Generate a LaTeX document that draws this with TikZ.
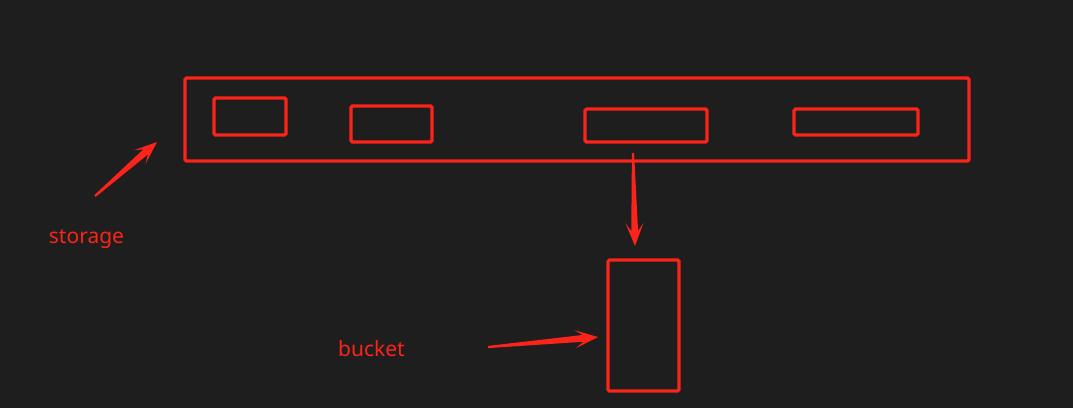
\documentclass[tikz,border=0pt]{standalone}
\usepackage{fontspec}
\setmainfont{Noto Sans}
\usetikzlibrary{calc}
\definecolor{bg}{RGB}{30,30,30}
\definecolor{redline}{RGB}{252,36,26}
\tikzset{
  box/.style={draw=redline, line width=3.2pt, rounded corners=1.5pt, inner sep=0pt, outer sep=0pt},
  lbl/.style={text=redline, font=\fontsize{21}{25}\selectfont, inner sep=0pt}
}
\newcommand{\taperarrow}[2]{%
  \fill[redline]
    ($(#1)!1.1pt!90:(#2)$) --
    ($(#2)!15pt!(#1)!3.4pt!-90:(#1)$) --
    ($(#2)!23pt!(#1)!9pt!-90:(#1)$) --
    (#2) --
    ($(#2)!23pt!(#1)!9pt!90:(#1)$) --
    ($(#2)!15pt!(#1)!3.4pt!90:(#1)$) --
    ($(#1)!1.1pt!-90:(#2)$) -- cycle;
}
\begin{document}
\begin{tikzpicture}[x=1pt,y=-1pt]
  \fill[bg] (0,0) rectangle (1073,408);
  \useasboundingbox (0,0) rectangle (1073,408);
  \node[box, minimum width=784pt, minimum height=83pt] (storage) at (577,119.5) {};
  \node[box, minimum width=72pt, minimum height=37pt] (r1) at (250,116.5) {};
  \node[box, minimum width=81pt, minimum height=36pt] (r2) at (391.5,124) {};
  \node[box, minimum width=122pt, minimum height=33pt] (r3) at (646,125.5) {};
  \node[box, minimum width=124pt, minimum height=26pt] (r4) at (856,122) {};
  \node[box, minimum width=71pt, minimum height=131pt] (bucket) at (643.5,325.5) {};
  \node[lbl] (tstorage) at (86.5,239) {storage};
  \node[lbl] (tbucket) at (371.5,349) {bucket};
  \coordinate (a1s) at (95,196);
  \coordinate (a1e) at (157,142);
  \coordinate (a2s) at (633,153);
  \coordinate (a2e) at (635,246);
  \coordinate (a3s) at (488,347);
  \coordinate (a3e) at (598,337);
  \taperarrow{a1s}{a1e}
  \taperarrow{a2s}{a2e}
  \taperarrow{a3s}{a3e}
\end{tikzpicture}
\end{document}
